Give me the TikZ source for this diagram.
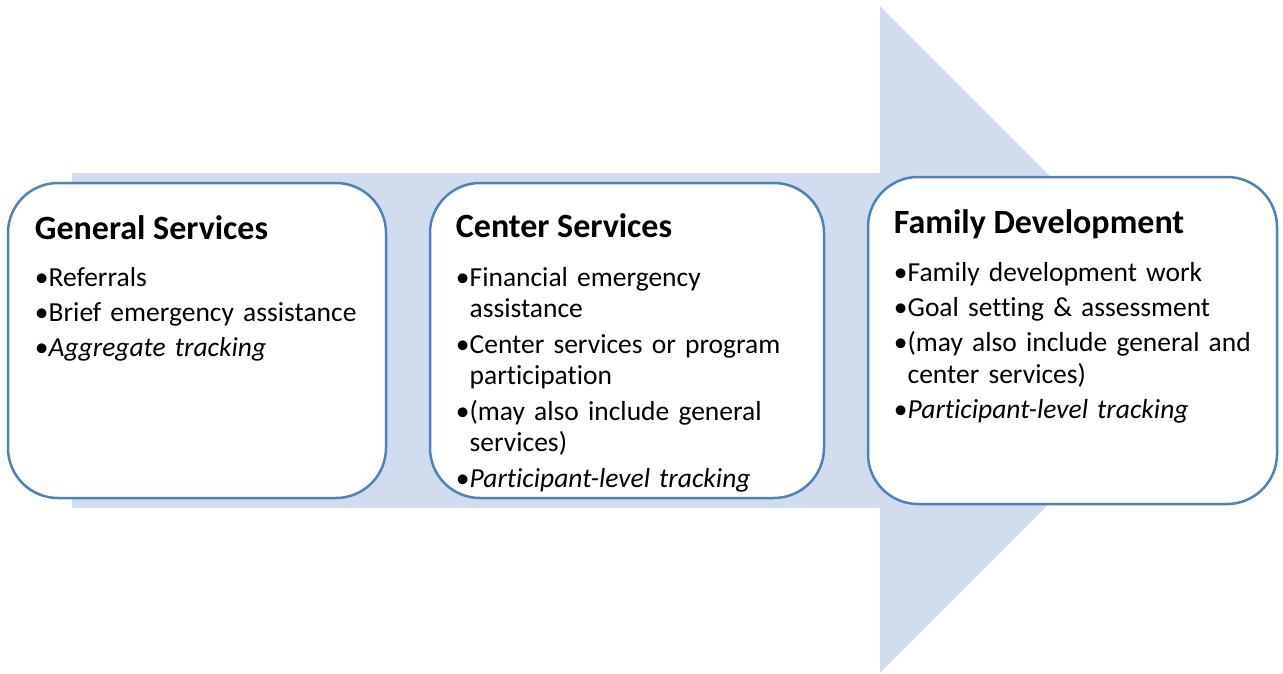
\documentclass[tikz,border=0pt]{standalone}
\usepackage{fontspec}
\setmainfont{Carlito}[Ligatures=NoCommon]
\usetikzlibrary{positioning,calc}

\definecolor{stageline}{RGB}{79,129,189}
\definecolor{flowfill}{RGB}{209,221,238}

% bullet with the wrapped lines hung under the text,
% the rule gives every first line the same top
\newcommand{\bul}[1]{\par\setbox0\hbox{•}\hangindent\wd0\hangafter1
    \noindent\rule{0pt}{22pt}•#1}

\begin{document}
\begin{tikzpicture}[%
    x=1pt,
    y=-1pt,
    stage/.style={draw=stageline, line width=2.5pt, fill=white,
        rounded corners=50pt, inner sep=0pt},
    stagetitle/.style={anchor=base west, inner sep=0pt,
        font=\fontsize{34}{40}\selectfont\bfseries},
    stagelist/.style={anchor=north west, inner sep=0pt,
        font=\fontsize{27.5}{31.7}\selectfont,
        execute at begin node={\raggedright\hyphenpenalty=10000
            \exhyphenpenalty=10000\setlength{\parskip}{3.6pt}}}
    ]

    \useasboundingbox (0,0) rectangle (1283,673);

    % the big arrow behind the three stages
    \fill[flowfill] (72,173) -- (880,173) -- (880,6) -- (1213,339.5)
        -- (880,673) -- (880,508) -- (72,508) -- cycle;

    \node[stage, minimum width=378pt, minimum height=315pt] (general) at (197,340.5) {};
    \node[stage, minimum width=394pt, minimum height=315pt] (center) at (627,340.5) {};
    \node[stage, minimum width=409pt, minimum height=327pt] (family) at (1072.5,340.5) {};

    \node[stagetitle] (gentitle) at ($(general.north west)+(28,58)$) {General Services};
    \node[stagetitle] (centitle) at ($(center.north west)+(27,56)$) {Center Services};
    \node[stagetitle] (famtitle) at ($(family.north west)+(27,58)$) {Family Development};

    \node[stagelist, text width=330pt] (genlist) at ($(gentitle.base west)+(0,11)$) {%
        \bul{Referrals}
        \bul{Brief emergency assistance}
        \bul{\itshape Aggregate tracking}};
    \node[stagelist, text width=340pt] (cenlist) at ($(centitle.base west)+(0,13)$) {%
        \bul{Financial emergency assistance}
        \bul{Center services or program participation}
        \bul{(may also include general services)}
        \bul{\itshape Participant-level tracking}};
    \node[stagelist, text width=370pt] (famlist) at ($(famtitle.base west)+(0,12)$) {%
        \bul{Family development work}
        \bul{Goal setting \& assessment}
        \bul{(may also include general and center services)}
        \bul{\itshape Participant-level tracking}};

\end{tikzpicture}
\end{document}
